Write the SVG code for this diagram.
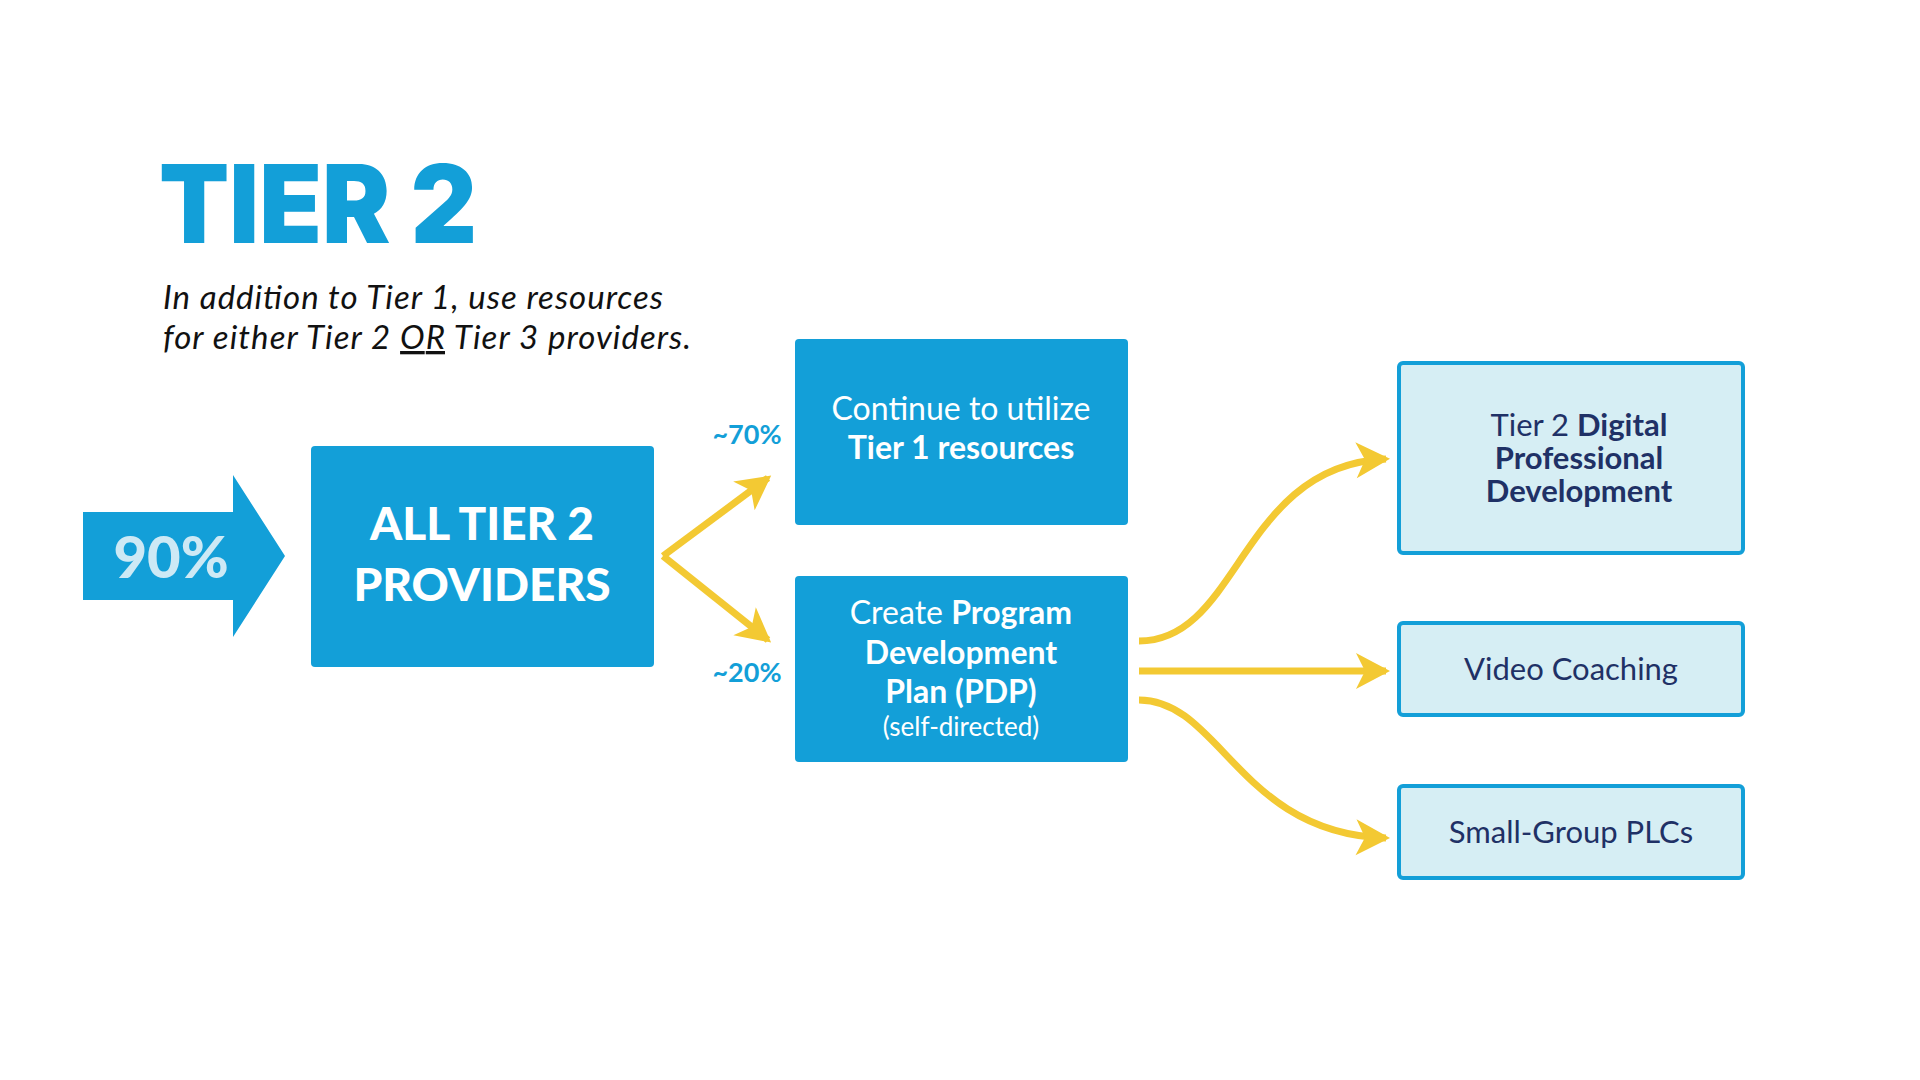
<svg xmlns="http://www.w3.org/2000/svg" width="1920" height="1080" viewBox="0 0 1920 1080">
<style>
.t{font-family:Lato,"Noto Sans","Liberation Sans",sans-serif}
.b{font-weight:bold}
.w{fill:#ffffff}
.n{fill:#1f3166}
.blue{fill:#139fd8}
.lb{fill:#d6eef4;stroke:#139fd8;stroke-width:4}
.c{fill:none;stroke:#f3c933;stroke-width:7;marker-end:url(#ah)}
</style>
<defs>
<marker id="ah" markerUnits="userSpaceOnUse" markerWidth="40" markerHeight="40" viewBox="-2 -20 40 40" refX="30" refY="0" orient="auto">
<path d="M0,-18 L34,0 L0,18 L9,0 z" fill="#f3c933"/>
</marker>
</defs>
<rect width="1920" height="1080" fill="#ffffff"/>
<g id="title">
<text class="t blue" x="159" y="243" font-size="108" font-weight="900" textLength="318" lengthAdjust="spacingAndGlyphs" style="font-family:Inter,Lato,sans-serif">TIER 2</text>
<text class="t" x="163" y="309" font-size="33" font-style="italic" fill="#111" textLength="500">In addition to Tier 1, use resources</text>
<text class="t" x="163" y="349" font-size="33" font-style="italic" fill="#111" textLength="528">for either Tier 2 <tspan text-decoration="underline">OR</tspan> Tier 3 providers.</text>
</g>
<g id="arrow90">
<path d="M83,512 L233,512 L233,475 L285,556 L233,637 L233,600 L83,600 z" fill="#139fd8"/>
<text class="t" x="171" y="578" font-size="58" font-weight="900" text-anchor="middle" fill="#cde9f5">90%</text>
</g>
<g id="all">
<rect x="311" y="446" width="343" height="221" rx="4" fill="#139fd8"/>
<text class="t w" x="482" y="540" font-size="46" font-weight="900" text-anchor="middle">ALL TIER 2</text>
<text class="t w" x="482" y="601" font-size="46" font-weight="900" text-anchor="middle">PROVIDERS</text>
</g>
<g id="continue">
<rect x="795" y="339" width="333" height="186" rx="4" fill="#139fd8"/>
<text class="t w" x="961" y="420" font-size="32" text-anchor="middle">Continue to utilize</text>
<text class="t b w" x="961" y="459" font-size="32" text-anchor="middle">Tier 1 resources</text>
</g>
<g id="create">
<rect x="795" y="576" width="333" height="186" rx="4" fill="#139fd8"/>
<text class="t w" x="961" y="624" font-size="32" text-anchor="middle">Create <tspan class="b">Program</tspan></text>
<text class="t b w" x="961" y="664" font-size="32" text-anchor="middle">Development</text>
<text class="t b w" x="961" y="703" font-size="32" text-anchor="middle">Plan (PDP)</text>
<text class="t w" x="961" y="736" font-size="26" text-anchor="middle">(self-directed)</text>
</g>
<g id="digital">
<rect class="lb" x="1399" y="363" width="344" height="190" rx="4"/>
<text class="t n" x="1579" y="436" font-size="31" text-anchor="middle">Tier 2 <tspan class="b">Digital</tspan></text>
<text class="t b n" x="1579" y="469" font-size="31" text-anchor="middle">Professional</text>
<text class="t b n" x="1579" y="502" font-size="31" text-anchor="middle">Development</text>
</g>
<g id="video">
<rect class="lb" x="1399" y="623" width="344" height="92" rx="4"/>
<text class="t n" x="1571" y="680" font-size="31" text-anchor="middle">Video Coaching</text>
</g>
<g id="plc">
<rect class="lb" x="1399" y="786" width="344" height="92" rx="4"/>
<text class="t n" x="1571" y="843" font-size="31" text-anchor="middle">Small-Group PLCs</text>
</g>
<g id="connectors">
<path class="c" d="M663,556 L768,478"/>
<path class="c" d="M663,556 L768,640"/>
<text class="t b blue" x="747" y="444" font-size="27" text-anchor="middle">~70%</text>
<text class="t b blue" x="747" y="682" font-size="27" text-anchor="middle">~20%</text>
<path class="c" d="M1139,641 C1240,641 1240,465 1386,459"/>
<path class="c" d="M1139,671 L1386,671"/>
<path class="c" d="M1139,700 C1220,700 1240,834 1386,838"/>
</g>
</svg>
